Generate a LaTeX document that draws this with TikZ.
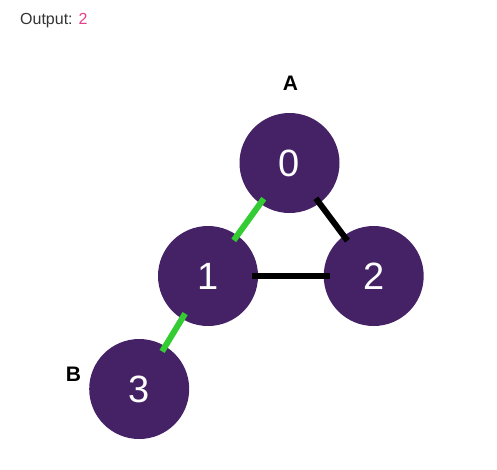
\documentclass[tikz,border=0pt]{standalone}
\usepackage{fontspec}
\setmainfont{Liberation Sans}
\definecolor{nodepurple}{HTML}{452266}
\definecolor{edgegreen}{HTML}{33CC33}
\definecolor{outgrey}{HTML}{333333}
\definecolor{outpink}{HTML}{E83E8C}
\begin{document}
\begin{tikzpicture}[x=1pt,y=-1pt,
  vert/.style={circle,fill=nodepurple,minimum size=100pt,inner sep=0pt,text=white,font=\fontsize{38}{40}\selectfont},
  tag/.style={font=\bfseries\fontsize{21}{24}\selectfont,text=black},
  edge/.style={line width=6pt,shorten <=44pt,shorten >=44pt},
  hit/.style={edge,draw=edgegreen},
  plain/.style={edge,draw=black}]
\useasboundingbox (0,0) rectangle (497,469);
\node[anchor=base west,inner sep=0pt,font=\fontsize{16}{18}\selectfont,text=outgrey] (out) at (20,24) {Output: \textcolor{outpink}{2}};
\node[vert] (n0) at (289.5,163) {0};
\node[vert] (n1) at (208,276) {1};
\node[vert] (n2) at (373.7,276) {2};
\node[vert] (n3) at (139.2,389) {3};
\node[tag] (lA) at (290.5,83) {A};
\node[tag] (lB) at (73.5,374) {B};
\draw[hit] (n0.center) -- (n1.center);
\draw[plain] (n0.center) -- (n2.center);
\draw[plain] (n1.center) -- (n2.center);
\draw[hit] (n1.center) -- (n3.center);
\end{tikzpicture}
\end{document}
